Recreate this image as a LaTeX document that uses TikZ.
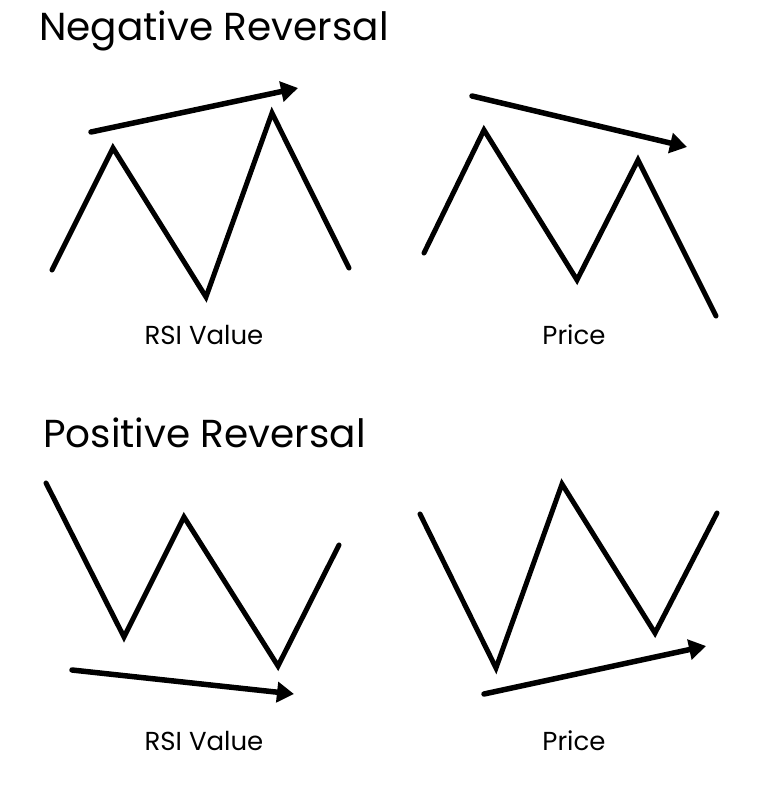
\documentclass[tikz,border=0pt]{standalone}
\usepackage{fontspec}
\setmainfont{Poppins}
\usetikzlibrary{arrows.meta}
\begin{document}
\begin{tikzpicture}[x=1pt,y=-1pt,
  zig/.style={line width=5pt, line join=miter, line cap=round},
  trend/.style={line width=5.5pt, line cap=round, -{Triangle[length=17pt,width=20pt]}},
  title/.style={anchor=base west, inner sep=0pt, font=\fontsize{39}{46}\selectfont},
  lab/.style={anchor=base, inner sep=0pt, font=\fontsize{26}{31}\selectfont}]
\useasboundingbox (0,0) rectangle (757,785);
% Negative reversal
\node[title] (t1) at (39,40) {Negative Reversal};
\coordinate (a1) at (52,270); \coordinate (a2) at (113,148); \coordinate (a3) at (206,297);
\coordinate (a4) at (272,113); \coordinate (a5) at (349,268);
\draw[zig] (a1) -- (a2) -- (a3) -- (a4) -- (a5);
\coordinate (ar1s) at (91,132); \coordinate (ar1e) at (298,88);
\draw[trend] (ar1s) -- (ar1e);
\node[lab] (l1) at (204,344) {RSI Value};
\coordinate (b1) at (424,253); \coordinate (b2) at (484,130); \coordinate (b3) at (577,280);
\coordinate (b4) at (638,160); \coordinate (b5) at (716,316);
\draw[zig] (b1) -- (b2) -- (b3) -- (b4) -- (b5);
\coordinate (ar2s) at (472,96); \coordinate (ar2e) at (687,147);
\draw[trend] (ar2s) -- (ar2e);
\node[lab] (l2) at (574,344) {Price};
% Positive reversal
\node[title] (t2) at (43,447) {Positive Reversal};
\coordinate (c1) at (46,483); \coordinate (c2) at (124,637); \coordinate (c3) at (184,517);
\coordinate (c4) at (278,666); \coordinate (c5) at (339,545);
\draw[zig] (c1) -- (c2) -- (c3) -- (c4) -- (c5);
\coordinate (ar3s) at (72,670); \coordinate (ar3e) at (294,694);
\draw[trend] (ar3s) -- (ar3e);
\node[lab] (l3) at (204,750) {RSI Value};
\coordinate (d1) at (420,514); \coordinate (d2) at (496,668); \coordinate (d3) at (562,484);
\coordinate (d4) at (655,633); \coordinate (d5) at (717,513);
\draw[zig] (d1) -- (d2) -- (d3) -- (d4) -- (d5);
\coordinate (ar4s) at (484,694); \coordinate (ar4e) at (706,646);
\draw[trend] (ar4s) -- (ar4e);
\node[lab] (l4) at (574,750) {Price};
\end{tikzpicture}
\end{document}
